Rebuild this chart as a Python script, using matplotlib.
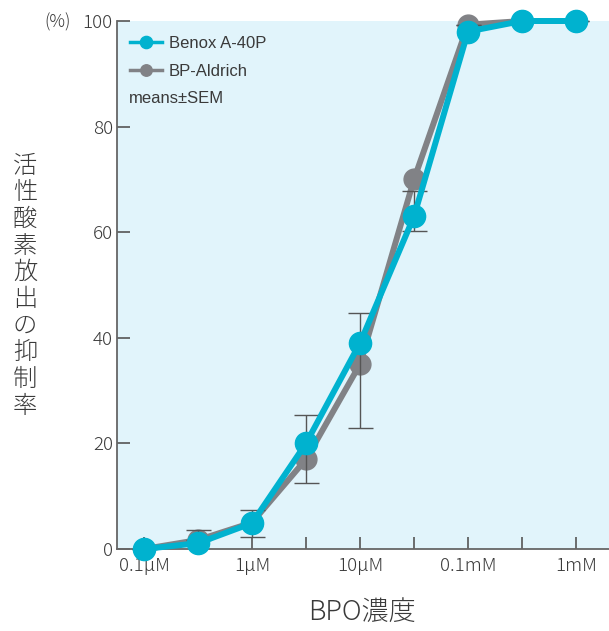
import matplotlib
matplotlib.use('Agg')
import matplotlib.pyplot as plt
import numpy as np

plt.rcParams['font.family'] = ['Noto Sans CJK JP', 'DejaVu Sans']

# concentrations (half-log steps), only every other one labelled
conc = ['0.1μM', '0.3μM', '1μM', '3μM', '10μM', '30μM', '0.1mM', '0.3mM', '1mM']
tick_labels = ['0.1μM', '', '1μM', '', '10μM', '', '0.1mM', '', '1mM']

benox = [0, 1.1, 4.9, 20, 39, 63, 98, 100, 100]
aldrich = [0, 1.7, 5, 17, 35, 70, 99.3, 100, 100]
err_low = [0, 0, 2.7, 4.5, 12.1, 9.8, 0, 0, 0]
err_high = [0, 1.9, 2.4, 8.4, 9.7, -2.2, 0, 0, 0]
err_center = [0, 1.7, 5, 17, 35, 70, 99.3, 100, 100]

ylabel = '活性酸素放出の抑制率'

cyan = '#00b2cf'
grey = '#818286'
txt = '#3a3a3a'

x = np.arange(len(conc))

fig = plt.figure(figsize=(6.09, 6.31), dpi=100)
ax = fig.add_axes([117/609, 1-549/631, 1-117/609, (549-21)/631])
ax.set_facecolor('#e1f4fb')

ax.plot(x, aldrich, '-o', color=grey, lw=4.3, ms=15, clip_on=False, zorder=3,
        label='BP-Aldrich')
lo = np.array(err_low)
hi = np.array(err_high)
c = np.array(err_center)
ax.errorbar(x, c + (hi - lo) / 2, yerr=(hi + lo) / 2, fmt='none', ecolor='#555555',
            elinewidth=1.0, capsize=9, capthick=1.0, zorder=4, clip_on=False)
ax.plot(x, benox, '-o', color=cyan, lw=4.3, ms=16, clip_on=False, zorder=5,
        label='Benox A-40P')

ax.set_xlim(-0.5, (609-144)/54)
ax.set_ylim(0, 100)
ax.set_yticks([0, 20, 40, 60, 80, 100])
ax.set_xticks(x)
ax.set_xticklabels(tick_labels)
ax.tick_params(axis='both', direction='in', length=9, width=1.2, color='#555555',
               labelsize=13.5, labelcolor=txt)
ax.tick_params(axis='x', pad=6)
ax.tick_params(axis='y', pad=3)
for lab in ax.get_xticklabels() + ax.get_yticklabels():
    lab.set_fontweight('light')
for s in ['top', 'right']:
    ax.spines[s].set_visible(False)
for s in ['left', 'bottom']:
    ax.spines[s].set_color('#666666')
    ax.spines[s].set_linewidth(1.3)

latin = ['Liberation Sans', 'DejaVu Sans']
h, l = ax.get_legend_handles_labels()
leg = ax.legend(h[::-1], l[::-1], loc='upper left', bbox_to_anchor=(0.0, 0.997),
                frameon=False, prop={'family': latin, 'size': 12},
                handlelength=1.9, markerscale=0.55,
                handletextpad=0.4, labelspacing=0.78, borderaxespad=0.4)
for line in leg.get_lines():
    line.set_linewidth(2.5)
for t in leg.get_texts():
    t.set_color(txt)
ax.text(0.024, 0.854, 'means±SEM', transform=ax.transAxes, fontsize=12,
        family=latin, color=txt, va='center')

fig.text(58/609, 1-22/631, '(%)', fontsize=12.5, color=txt, ha='center', va='center',
         fontweight='light')
for i, ch in enumerate(ylabel):
    fig.text(25/609, 1-(166+26.7*i)/631, ch, fontsize=17.5, color=txt,
             ha='center', va='center', fontweight='light')
fig.text(362/609, 1-612/631, 'BPO濃度', fontsize=19.5, color=txt,
         ha='center', va='center', fontweight='light')

fig.savefig('out.png', dpi=100)
